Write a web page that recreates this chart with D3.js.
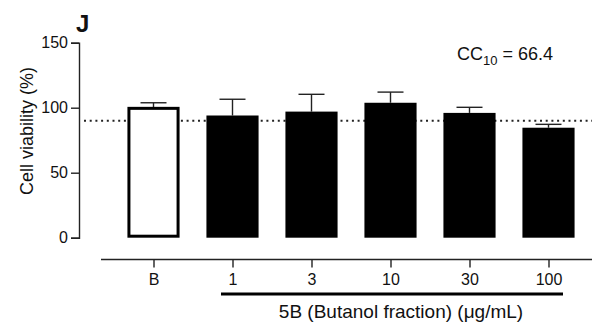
<!DOCTYPE html>
<html><head><meta charset="utf-8">
<script src="https://cdn.jsdelivr.net/npm/d3@7"></script>
<style>body{margin:0;background:#fff}svg{display:block}text{font-family:"Liberation Sans",Arial,sans-serif;fill:#111}</style>
</head><body>
<script>
const categories = ["B","1","3","10","30","100"];
const means = [99.5, 94, 97, 103.8, 96, 84.6];
const upperErr = [103.8, 106.5, 110.3, 112, 100.3, 87.2];
const yTicks = [0, 50, 100, 150];
const thresholdValue = 90;
const ccLabel = "66.4";

const W = 592, H = 325;
const svg = d3.select("body").append("svg").attr("width", W).attr("height", H);

const y = d3.scaleLinear().domain([0, 150]).range([237.7, 42.7]);
const x = d3.scalePoint().domain(categories).range([153.5, 548.5]);
const bw = x.step() * 0.66;

// dotted threshold line
svg.append("line").attr("x1", 84).attr("x2", W).attr("y1", y(thresholdValue)).attr("y2", y(thresholdValue))
  .attr("stroke", "#222").attr("stroke-width", 2).attr("stroke-dasharray", "2,3.7");

// error bars
categories.forEach((c, i) => {
  const cx = x(c);
  svg.append("line").attr("x1", cx).attr("x2", cx).attr("y1", y(upperErr[i])).attr("y2", y(means[i]))
    .attr("stroke", "#222").attr("stroke-width", 1.4);
  svg.append("line").attr("x1", cx - 13).attr("x2", cx + 13).attr("y1", y(upperErr[i])).attr("y2", y(upperErr[i]))
    .attr("stroke", "#222").attr("stroke-width", 1.4);
});

// bars
categories.forEach((c, i) => {
  if (i === 0) {
    svg.append("rect").attr("x", x(c) - bw / 2 + 1.5).attr("width", bw - 3)
      .attr("y", y(means[i])).attr("height", y(0) - y(means[i]) - 1.5)
      .attr("fill", "#fff").attr("stroke", "#000").attr("stroke-width", 3);
  } else {
    svg.append("rect").attr("x", x(c) - bw / 2).attr("width", bw)
      .attr("y", y(means[i])).attr("height", y(0) - y(means[i]))
      .attr("fill", "#000");
  }
});

// y axis
const yAxis = svg.append("g").attr("transform", "translate(79,0)")
  .call(d3.axisLeft(y).tickValues(yTicks).tickSize(8).tickPadding(3));
yAxis.select(".domain").attr("stroke", "#222").attr("stroke-width", 1.4);
yAxis.selectAll(".tick line").attr("stroke", "#222").attr("stroke-width", 1.4);
yAxis.selectAll(".tick text").style("font-size", "16px").attr("fill", "#222").style("font-family", "Liberation Sans, Arial, sans-serif");

// x axis
const xAxisG = svg.append("g").attr("transform", "translate(0,259.5)")
  .call(d3.axisBottom(x).tickSize(8).tickPadding(6).tickSizeOuter(0));
xAxisG.select(".domain").attr("d", `M101,0H${W}`).attr("stroke", "#222").attr("stroke-width", 1.4);
xAxisG.selectAll(".tick line").attr("stroke", "#222").attr("stroke-width", 1.4);
xAxisG.selectAll(".tick text").style("font-size", "16px").attr("fill", "#222").style("font-family", "Liberation Sans, Arial, sans-serif");

// group underline
svg.append("line").attr("x1", 221).attr("x2", 563).attr("y1", 294).attr("y2", 294)
  .attr("stroke", "#000").attr("stroke-width", 3);
const gl = svg.append("text").attr("x", 401).attr("y", 318).attr("text-anchor", "middle").style("font-size", "19px");
gl.append("tspan").text("5B (Butanol fraction) (");
gl.append("tspan").text("μ");
gl.append("tspan").text("g/mL)");

// y title
svg.append("text").attr("transform", "translate(33,131) rotate(-90)").attr("text-anchor", "middle")
  .style("font-size", "18px").text("Cell viability (%)");

// panel letter
svg.append("text").attr("x", 76).attr("y", 32).style("font-size", "24px").style("font-weight", "bold").text("J");

// CC10 annotation
const cc = svg.append("text").attr("x", 457).attr("y", 60).style("font-size", "18px");
cc.append("tspan").text("CC");
cc.append("tspan").attr("dy", 5).style("font-size", "13px").text("10");
cc.append("tspan").attr("dy", -5).text(" = " + ccLabel);
</script>
</body></html>
